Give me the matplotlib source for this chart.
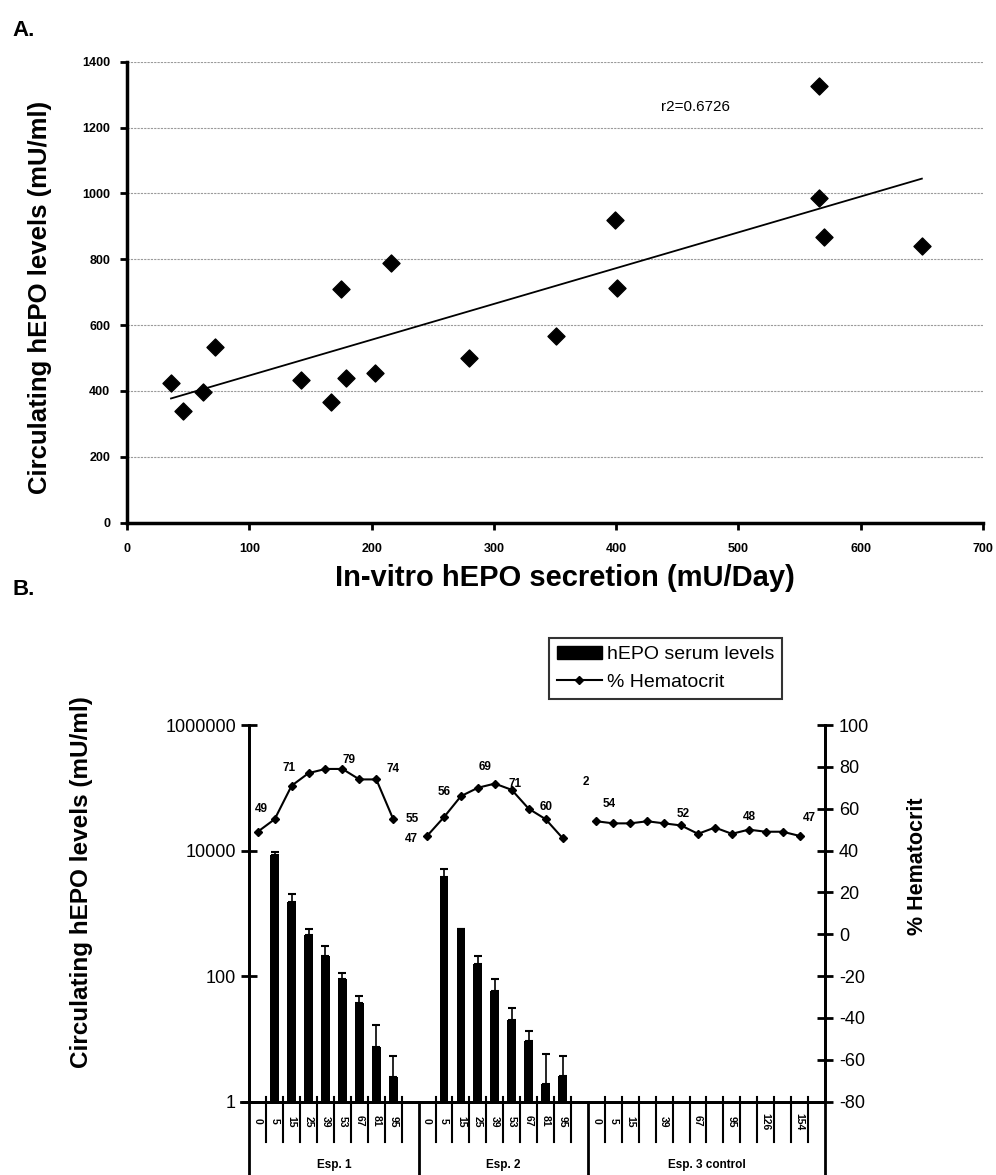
import numpy as np
import matplotlib
matplotlib.use("Agg")
import matplotlib.pyplot as plt
from matplotlib.patches import Patch
from matplotlib.lines import Line2D
import matplotlib.transforms as mtransforms

plt.rcParams['font.family'] = ['Liberation Sans', 'DejaVu Sans']
plt.rcParams['axes.unicode_minus'] = False

# ---------------- Panel A data ----------------
invitro_secretion = [36, 46, 62, 72, 142, 167, 175, 179, 203, 216, 280, 351, 399, 401, 566, 566, 570, 650]
circulating_hepo = [425, 339, 398, 534, 433, 367, 709, 438, 455, 788, 501, 568, 919, 712, 1325, 987, 866, 841]
r2_text = "r2=0.6726"

# ---------------- Panel B data ----------------
group_names = ["Esp. 1", "Esp. 2", "Esp. 3 control"]
group_sizes = [10, 10, 14]
days_exp1 = ["0", "5", "15", "25", "39", "53", "67", "81", "95", ""]
days_exp2 = ["0", "5", "15", "25", "39", "53", "67", "81", "95", ""]
days_exp3 = ["0", "5", "15", "", "39", "", "67", "", "95", "", "126", "", "154", ""]

epo_exp1 = [np.nan, 8500, 1530, 450, 210, 89, 38, 7.3, 2.5]
epo_err_exp1 = [0, 960, 500, 113, 92, 24, 11, 9.3, 2.8]
epo_exp2 = [np.nan, 3740, 556, 154, 58, 20, 9.4, 1.9, 2.6]
epo_err_exp2 = [0, 1280, 0, 55, 32, 11.4, 4.1, 3.85, 2.75]

hct_exp1 = [49, 55, 71, 77, 79, 79, 74, 74, 55]
hct_exp2 = [47, 56, 66, 70, 72, 69, 60, 55, 46]
hct_exp3 = [54, 53, 53, 54, 53, 52, 48, 51, 48, 50, 49, 49, 47]

# data labels: (experiment index, point index, text, dx px, dy px)
hct_labels = [
    (0, 0, "49", 4, 23), (0, 2, "71", -3, 18), (0, 5, "79", 7, 9),
    (0, 7, "74", 17, 10), (0, 8, "55", 19, 0),
    (1, 0, "47", -16, -3), (1, 1, "56", 0, 25), (1, 3, "69", 7, 21),
    (1, 4, "71", 20, 0), (1, 6, "60", 17, 2),
    (2, 0, "2", -11, 39), (2, 0, "54", 13, 17), (2, 5, "52", 2, 11),
    (2, 8, "48", 18, 17), (2, 12, "47", 10, 18),
]

W, H = 996, 1175
fig = plt.figure(figsize=(W / 100, H / 100), dpi=100)

# ================= Panel A =================
axA = fig.add_axes([127 / W, 1 - 522.5 / H, (983 - 127) / W, (522.5 - 61.7) / H])
axA.scatter(invitro_secretion, circulating_hepo, marker='D', s=75, color='black', zorder=3)
xs = np.array(invitro_secretion, dtype=float)
ys = np.array(circulating_hepo, dtype=float)
slope, intercept = np.polyfit(xs, ys, 1)
xl = np.array([xs.min(), xs.max()])
axA.plot(xl, slope * xl + intercept, color='black', lw=1.3, zorder=2)
axA.set_xlim(0, 700)
axA.set_ylim(0, 1400)
axA.set_xticks(range(0, 701, 100))
axA.set_yticks(range(0, 1401, 200))
axA.grid(axis='y', color='#9a9a9a', lw=0.8, linestyle=(0, (2, 1)))
axA.set_axisbelow(True)
for s in ['top', 'right']:
    axA.spines[s].set_visible(False)
for s in ['left', 'bottom']:
    axA.spines[s].set_linewidth(2.5)
axA.tick_params(axis='both', direction='out', length=5, width=2, labelsize=9)
for lab in axA.get_xticklabels() + axA.get_yticklabels():
    lab.set_fontweight('bold')
axA.tick_params(axis='x', pad=10)
axA.tick_params(axis='y', pad=7)
axA.text(465, 1263, r2_text, fontsize=11, ha='center', va='center')

fig.text(40 / W, 1 - 297 / H, "Circulating hEPO levels (mU/ml)", rotation=90,
         fontsize=18.5, fontweight='bold', ha='center', va='center')
fig.text(565 / W, 1 - 578 / H, "In-vitro hEPO secretion (mU/Day)",
         fontsize=21, fontweight='bold', ha='center', va='center')
fig.text(12 / W, 1 - 30 / H, "A.", fontsize=16, fontweight='bold', ha='left', va='center')
fig.text(12 / W, 1 - 590 / H, "B.", fontsize=16, fontweight='bold', ha='left', va='center')

# ================= Panel B =================
axB = fig.add_axes([249.3 / W, 1 - 1101.7 / H, (825 - 249.3) / W, (1101.7 - 725) / H])
ax2 = axB.twinx()

starts = np.cumsum([0] + group_sizes[:-1])
ncat = sum(group_sizes)
bar_w = 0.52

for st, vals, errs in [(starts[0], epo_exp1, epo_err_exp1), (starts[1], epo_exp2, epo_err_exp2)]:
    pos = st + np.arange(len(vals))
    v = np.array(vals, dtype=float)
    e = np.array(errs, dtype=float)
    m = ~np.isnan(v)
    axB.bar(pos[m], v[m], width=bar_w, color='black', bottom=0, zorder=2)
    axB.errorbar(pos[m], v[m], yerr=[np.zeros(m.sum()), e[m]], fmt='none',
                 ecolor='black', elinewidth=1.2, capsize=3, capthick=1.5, zorder=3)

axB.set_yscale('log')
axB.set_ylim(1, 1e6)
axB.set_xlim(-0.5, ncat - 0.5)
axB.set_yticks([1, 100, 10000, 1000000])
axB.set_yticklabels(["1", "100", "10000", "1000000"])
axB.yaxis.set_minor_locator(matplotlib.ticker.NullLocator())
axB.tick_params(axis='y', direction='inout', length=12, width=2, labelsize=13)
axB.set_xticks([])

hct_sets = [hct_exp1, hct_exp2, hct_exp3]
for gi, (st, hv) in enumerate(zip(starts, hct_sets)):
    pos = st + np.arange(len(hv))
    ax2.plot(pos, hv, color='black', lw=1.5, marker='D', markersize=4.5, zorder=4)
for gi, pi, txt, dx, dy in hct_labels:
    ax2.annotate(txt, (starts[gi] + pi, hct_sets[gi][pi]), xytext=(dx, dy),
                 textcoords='offset pixels', ha='center', va='center',
                 fontsize=8.5, fontweight='bold')
ax2.set_ylim(-80, 100)
ax2.set_yticks(range(-80, 101, 20))
ax2.tick_params(axis='y', direction='inout', length=12, width=2, labelsize=13, pad=4)

for a in (axB, ax2):
    a.spines['top'].set_visible(False)
    for s in ['left', 'right', 'bottom']:
        a.spines[s].set_linewidth(2)

# category ticks, tick labels, group separators
trans = mtransforms.blended_transform_factory(axB.transData, axB.transAxes)
all_labels = days_exp1 + days_exp2 + days_exp3
for k in range(ncat + 1):
    bx = k - 0.5
    is_sep = k in list(starts) + [ncat]
    if is_sep:
        axB.plot([bx, bx], [-0.195, 0.0], transform=trans, color='black', lw=2, clip_on=False)
    else:
        axB.plot([bx, bx], [-0.106, 0.012], transform=trans, color='black', lw=1.5, clip_on=False)
axB.plot([-1.0, -0.5], [0, 0], transform=trans, color='black', lw=2, clip_on=False)
for k, lab in enumerate(all_labels):
    if lab:
        axB.text(k, -0.052, lab, transform=trans, rotation=-90, ha='center', va='center',
                 fontsize=7.5, fontweight='bold')
for st, n, name in zip(starts, group_sizes, group_names):
    axB.text(st + (n - 1) / 2, -0.168, name, transform=trans, ha='center', va='center',
             fontsize=8.5, fontweight='bold')

fig.text(82 / W, 1 - 882 / H, "Circulating hEPO levels (mU/ml)", rotation=90,
         fontsize=17.5, fontweight='bold', ha='center', va='center')
fig.text(917 / W, 1 - 866 / H, "% Hematocrit", rotation=90,
         fontsize=15.5, fontweight='bold', ha='center', va='center')

handles = [Patch(facecolor='black', edgecolor='black'),
           Line2D([0], [0], color='black', lw=1.5, marker='D', markersize=4.5)]
leg = fig.legend(handles, ["hEPO serum levels", "% Hematocrit"], loc='upper left',
                 bbox_to_anchor=(549 / W, 1 - 638 / H), frameon=True, fancybox=False,
                 edgecolor='black', fontsize=14, handlelength=2.3, borderpad=0.4,
                 labelspacing=0.5, handletextpad=0.3, borderaxespad=0)
leg.get_frame().set_linewidth(1.5)

fig.savefig("out.png", dpi=100)
